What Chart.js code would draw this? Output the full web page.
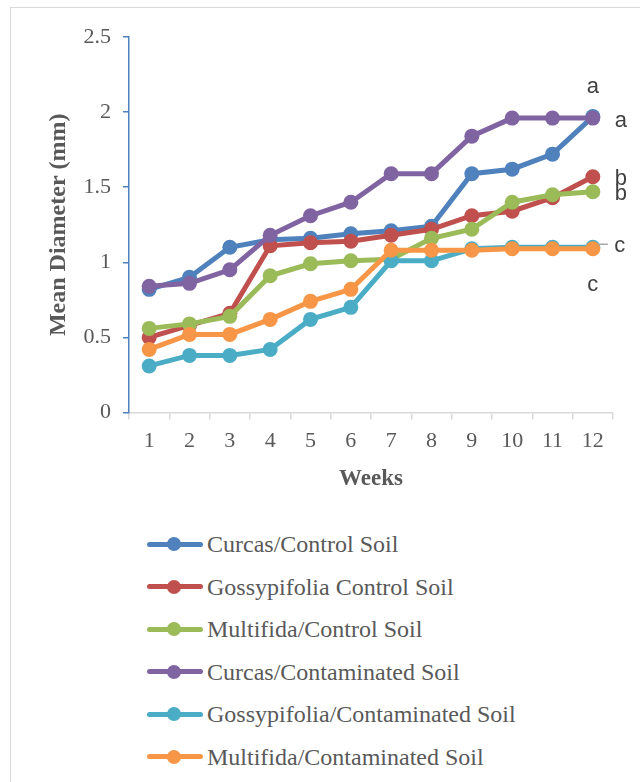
<!DOCTYPE html>
<html>
<head>
<meta charset="utf-8">
<script src="https://cdn.jsdelivr.net/npm/chart.js@4/dist/chart.umd.min.js"></script>
<style>
  html, body { margin: 0; padding: 0; background: #fff; }
  body { width: 640px; height: 782px; position: relative; overflow: hidden; }
  #frame { position: absolute; left: 10px; top: 7px; width: 700px; height: 800px;
           border-left: 1.5px solid #d9d9d9; border-top: 1.5px solid #d9d9d9; }
  #wrap { position: absolute; left: 0; top: 0; width: 640px; height: 500px; }
  #legend { position: absolute; left: 147px; top: 530px; }
  .item { position: relative; height: 42.6px; white-space: nowrap;
          font-family: "Liberation Serif", "Times New Roman", serif; font-size: 24px;
          line-height: 28px; color: #595959; }
  .mk { position: absolute; left: 0; top: 11.5px; width: 56px; height: 5px; border-radius: 3px; }
  .dot { position: absolute; left: 20px; top: 7px; width: 14px; height: 14px; border-radius: 50%; }
  .txt { position: absolute; left: 60px; top: 0; }
</style>
</head>
<body>
<div id="frame"></div>
<div id="wrap"><canvas id="c" width="640" height="500"></canvas></div>
<div id="legend"></div>
<script>
const weeks = ['1','2','3','4','5','6','7','8','9','10','11','12'];
const seriesNames = [
  'Curcas/Control Soil',
  'Gossypifolia Control Soil',
  'Multifida/Control Soil',
  'Curcas/Contaminated Soil',
  'Gossypifolia/Contaminated Soil',
  'Multifida/Contaminated Soil'
];
const curcasControl       = [0.82, 0.90, 1.10, 1.15, 1.16, 1.19, 1.21, 1.24, 1.59, 1.62, 1.72, 1.97];
const gossypifoliaControl = [0.50, 0.58, 0.66, 1.11, 1.13, 1.14, 1.18, 1.22, 1.31, 1.34, 1.43, 1.57];
const multifidaControl    = [0.56, 0.59, 0.64, 0.91, 0.99, 1.01, 1.02, 1.16, 1.22, 1.40, 1.45, 1.47];
const curcasContam        = [0.84, 0.86, 0.95, 1.18, 1.31, 1.40, 1.59, 1.59, 1.84, 1.96, 1.96, 1.96];
const gossypifoliaContam  = [0.31, 0.38, 0.38, 0.42, 0.62, 0.70, 1.01, 1.01, 1.09, 1.10, 1.10, 1.10];
const multifidaContam     = [0.42, 0.52, 0.52, 0.62, 0.74, 0.82, 1.08, 1.08, 1.08, 1.09, 1.09, 1.09];
// significance letter for each series (same order as seriesNames)
const significance = ['a', 'b', 'b', 'a', 'c', 'c'];
const yTickLabels = ['0', '0.5', '1', '1.5', '2', '2.5'];
const yTickMax = 2.5, yTickStep = 0.5;

const colors = ['#4f81bd', '#c0504d', '#9bbb59', '#8064a2', '#4bacc6', '#f79646'];
const allSeries = [curcasControl, gossypifoliaControl, multifidaControl, curcasContam, gossypifoliaContam, multifidaContam];

Chart.defaults.font.family = '"Liberation Serif", "Times New Roman", serif';
Chart.defaults.color = '#595959';

// label offsets relative to last point of each series (style only)
const labelOffsets = [
  {dx: 0,  dy: -24, leader: false},  // blue
  {dx: 28, dy: 8,   leader: false},  // red
  {dx: 28, dy: 8,   leader: false},  // green
  {dx: 28, dy: 9,   leader: false},  // purple
  {dx: 27, dy: 5,   leader: true},   // teal
  {dx: 0,  dy: 42,  leader: false}   // orange
];

const letterPlugin = {
  id: 'letters',
  afterDatasetsDraw(chart) {
    const ctx = chart.ctx;
    ctx.save();
    ctx.font = '22px "Liberation Sans", Arial, sans-serif';
    ctx.fillStyle = '#404040';
    ctx.textAlign = 'center';
    ctx.textBaseline = 'alphabetic';
    chart.data.datasets.forEach((ds, i) => {
      const meta = chart.getDatasetMeta(i);
      const pt = meta.data[meta.data.length - 1];
      const o = labelOffsets[i];
      if (o.leader) {
        ctx.strokeStyle = '#a6a6a6';
        ctx.lineWidth = 1.5;
        ctx.beginPath();
        ctx.moveTo(pt.x + 5, pt.y - 3);
        ctx.lineTo(pt.x + 15, pt.y - 3);
        ctx.stroke();
      }
      ctx.fillText(significance[i], pt.x + o.dx, pt.y + o.dy);
    });
    ctx.restore();
  }
};

const datasets = allSeries.map((vals, i) => ({
  label: seriesNames[i],
  data: vals,
  borderColor: colors[i],
  backgroundColor: colors[i],
  pointBackgroundColor: colors[i],
  pointBorderColor: colors[i],
  pointBorderWidth: 0,
  pointRadius: 7.5,
  pointHoverRadius: 7.5,
  borderWidth: 5,
  tension: 0,
  order: allSeries.length - i
}));

const chart = new Chart(document.getElementById('c'), {
  type: 'line',
  data: { labels: weeks, datasets },
  options: {
    responsive: false,
    animation: false,
    events: [],
    layout: { padding: { left: 0, top: 37, right: 27, bottom: 7.5 } },
    plugins: { legend: { display: false }, tooltip: { enabled: false } },
    scales: {
      x: {
        offset: true,
        grid: { offset: true, drawOnChartArea: false, drawTicks: true, tickLength: 7, color: '#d9d9d9', lineWidth: 1.5 },
        border: { color: '#d9d9d9', width: 1.5 },
        ticks: { font: { size: 22 }, padding: 9, color: '#595959', maxRotation: 0, autoSkip: false },
        title: { display: true, text: 'Weeks', font: { size: 23, weight: 'bold' }, color: '#595959', padding: 0 },
        afterFit(s) { s.height = 80; }
      },
      y: {
        min: 0, max: yTickMax,
        grid: { drawOnChartArea: false, drawTicks: true, tickLength: 6, color: '#4f81bd', lineWidth: 1.5 },
        border: { color: '#4f81bd', width: 1.5 },
        ticks: { stepSize: yTickStep, font: { size: 22 }, padding: 12, color: '#595959',
                 callback: (v, idx) => yTickLabels[idx] },
        title: { display: true, text: 'Mean Diameter (mm)', font: { size: 24, weight: 'bold' }, color: '#595959', padding: { top: 44.6, bottom: 0 } },
        afterFit(s) { s.width = 129; }
      }
    }
  },
  plugins: [letterPlugin]
});

// HTML legend from chart datasets
const leg = document.getElementById('legend');
chart.data.datasets.forEach(ds => {
  const it = document.createElement('div');
  it.className = 'item';
  const mk = document.createElement('div'); mk.className = 'mk'; mk.style.background = ds.borderColor;
  const dot = document.createElement('div'); dot.className = 'dot'; dot.style.background = ds.borderColor;
  const tx = document.createElement('div'); tx.className = 'txt'; tx.textContent = ds.label;
  it.appendChild(mk); it.appendChild(dot); it.appendChild(tx);
  leg.appendChild(it);
});
</script>
</body>
</html>
